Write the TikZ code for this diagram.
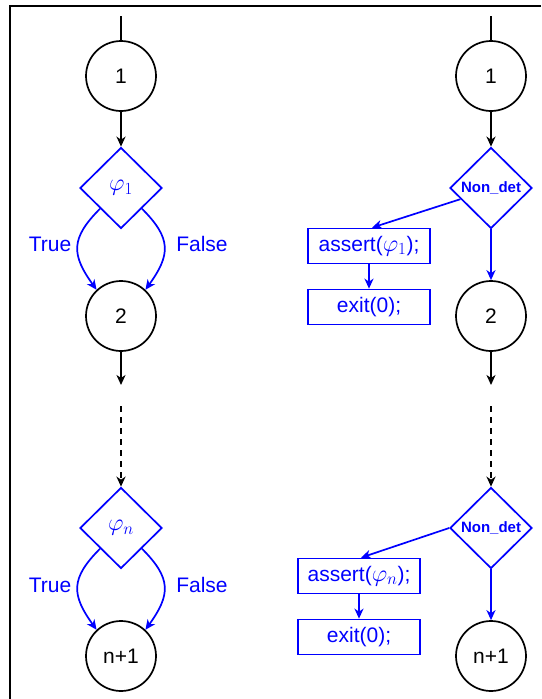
\RequirePackage{fix-cm}
\documentclass[tikz,border=0pt]{standalone}
\usepackage{fontspec}
\setmainfont{Liberation Sans}
\DeclareMathSizes{21}{24}{17}{12}
\usetikzlibrary{shapes.geometric,arrows.meta,calc}
\begin{document}
\begin{tikzpicture}[x=1pt,y=-1pt,
  every node/.style={font=\fontsize{21}{25}\selectfont},
  state/.style={circle,draw=black,line width=1.7pt,minimum size=70pt,inner sep=0pt},
  cond/.style={diamond,draw=blue,line width=1.7pt,minimum width=82pt,minimum height=81pt,inner sep=0pt,text=blue},
  nd/.style={cond,font=\fontsize{15}{18}\selectfont\bfseries},
  stmt/.style={rectangle,draw=blue,line width=1.7pt,minimum width=122pt,minimum height=35pt,inner sep=0pt,text=blue},
  arr/.style={-{Stealth[length=10pt,width=9pt,inset=3pt]},line width=1.7pt},
  barr/.style={arr,draw=blue},
  lbl/.style={text=blue},
  dsh/.style={arr,dash pattern=on 6pt off 5pt}
]
\useasboundingbox (0,0) rectangle (541,699);
% frame
\coordinate (FT) at (541,6);
\coordinate (FC) at (10,6);
\coordinate (FB) at (10,699);
\draw[line width=1.2pt] (FT) -- (FC) -- (FB);

% ---------- left column ----------
\coordinate (L0) at (121,16);
\node[state] (L1) at (121,76) {1};
\draw[line width=1.7pt] (L0) -- (L1);
\node[cond] (Lc1) at (121,188) {$\varphi_1$};
\draw[arr] (L1) -- (Lc1);
\node[state] (L2) at (121,316) {2};
\draw[barr] ($(Lc1.west)!0.5!(Lc1.south)$) .. controls +(-30,30) and +(-25,-35) .. (L2.133);
\draw[barr] ($(Lc1.east)!0.5!(Lc1.south)$) .. controls +(30,30) and +(25,-35) .. (L2.47);
\node[lbl] (T1) at (50,244) {True};
\node[lbl] (F1) at (202,244) {False};
\coordinate (Lm) at (121,385);
\draw[arr] (L2) -- (Lm);
\coordinate (Ld) at (121,406);
\node[cond] (Lc2) at (121,528) {$\varphi_n$};
\draw[dsh] (Ld) -- (Lc2);
\node[state] (L3) at (121,656) {n+1};
\draw[barr] ($(Lc2.west)!0.5!(Lc2.south)$) .. controls +(-30,30) and +(-25,-35) .. (L3.133);
\draw[barr] ($(Lc2.east)!0.5!(Lc2.south)$) .. controls +(30,30) and +(25,-35) .. (L3.47);
\node[lbl] (T2) at (50,585) {True};
\node[lbl] (F2) at (202,585) {False};

% ---------- right column ----------
\coordinate (R0) at (491,16);
\node[state] (R1) at (491,76) {1};
\draw[line width=1.7pt] (R0) -- (R1);
\node[nd] (Rc1) at (491,188) {Non\_det};
\draw[arr] (R1) -- (Rc1);
\node[stmt] (A1) at (369,246) {assert($\varphi_1$);};
\node[stmt] (E1) at (369,307) {exit(0);};
\draw[barr] ($(Rc1.west)!0.27!(Rc1.south)$) -- ([xshift=3pt]A1.north);
\draw[barr] (A1) -- (E1);
\node[state] (R2) at (491,316) {2};
\draw[barr] (Rc1) -- (R2);
\coordinate (Rm) at (491,385);
\draw[arr] (R2) -- (Rm);
\coordinate (Rd) at (491,406);
\node[nd] (Rc2) at (491,528) {Non\_det};
\draw[dsh] (Rd) -- (Rc2);
\node[stmt] (A2) at (359,576) {assert($\varphi_n$);};
\node[stmt] (E2) at (359,637) {exit(0);};
\draw[barr] (Rc2.west) -- ([xshift=2pt]A2.north);
\draw[barr] (A2) -- (E2);
\node[state] (R3) at (491,656) {n+1};
\draw[barr] (Rc2) -- (R3);
\end{tikzpicture}
\end{document}
